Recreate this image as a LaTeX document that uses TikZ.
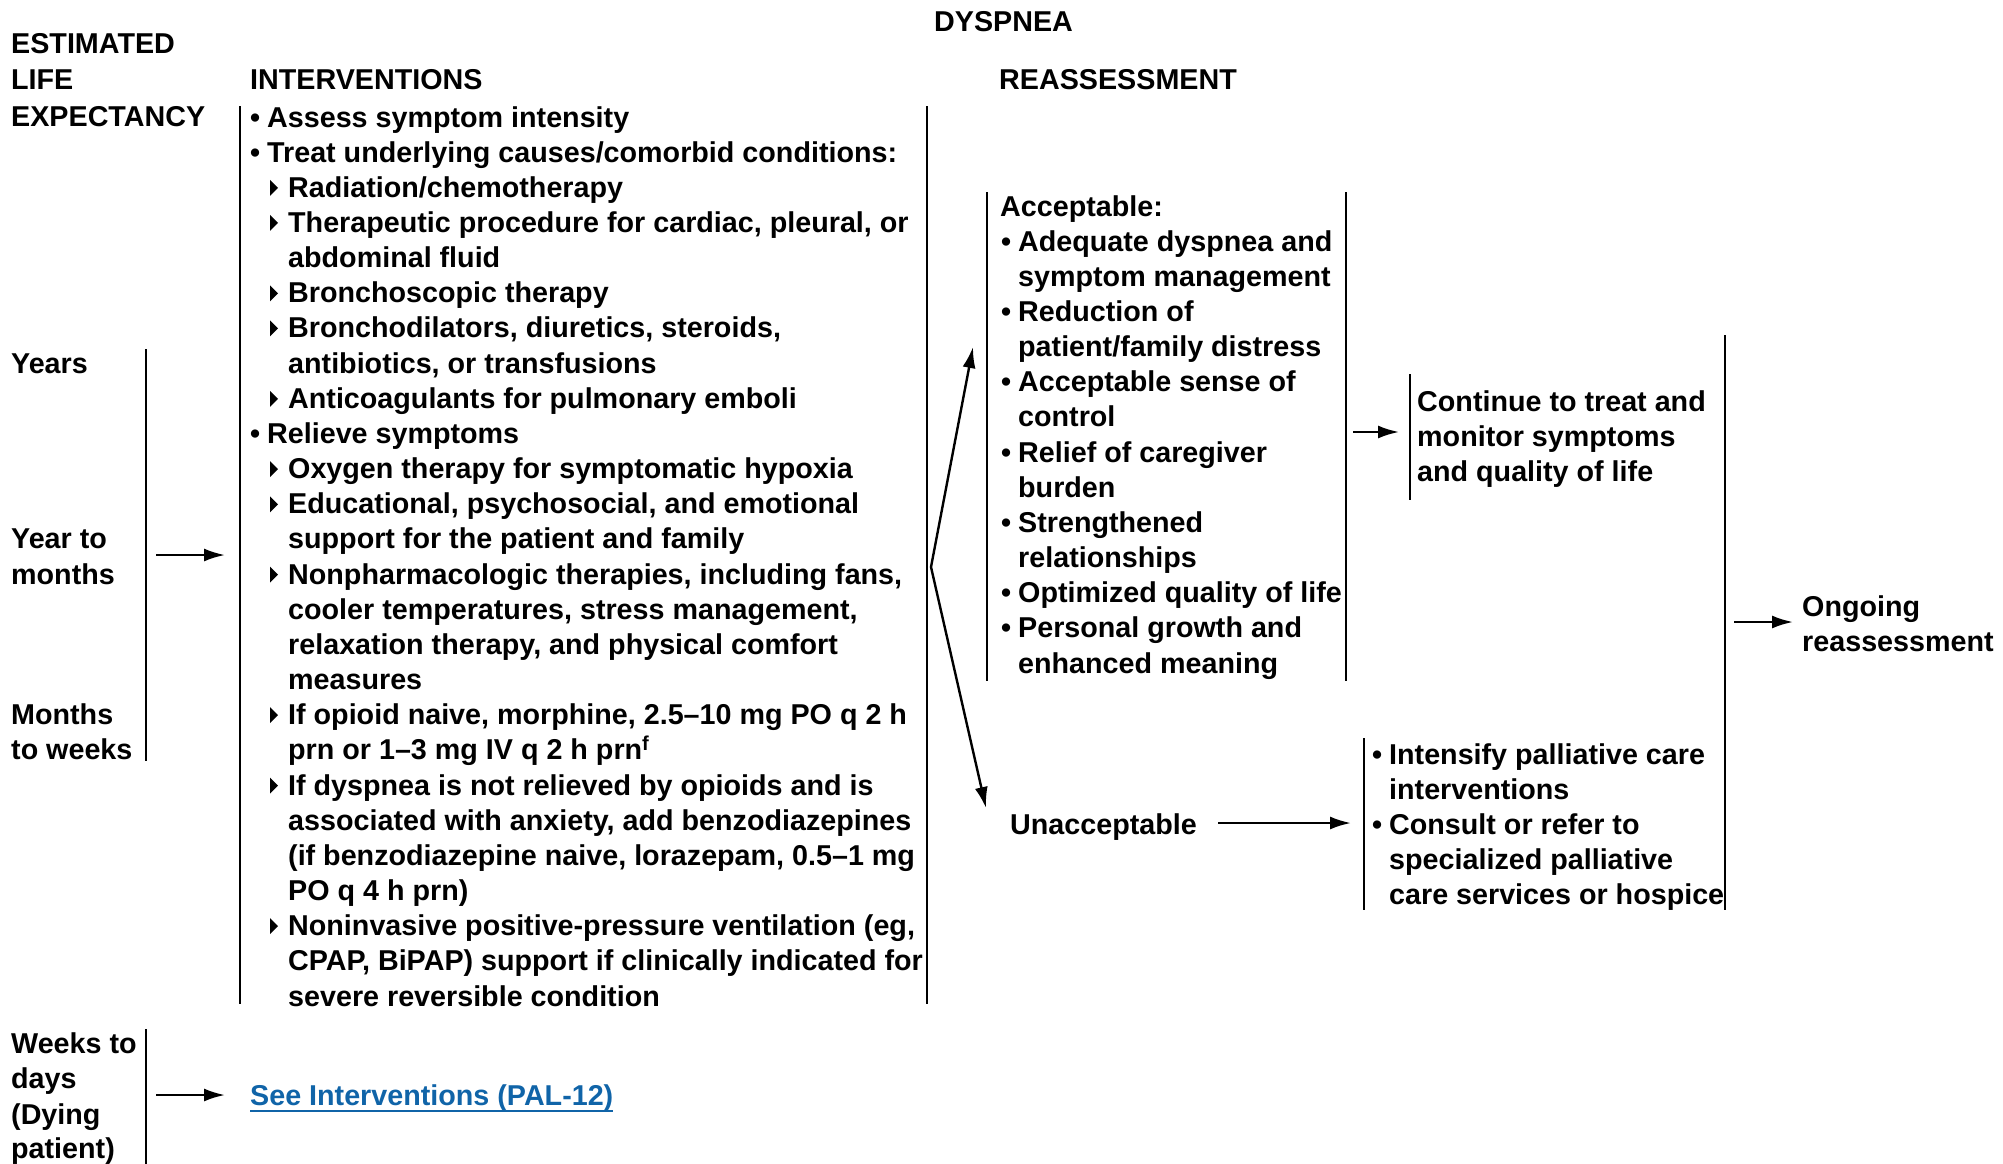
\documentclass[tikz,border=0pt]{standalone}
\usepackage{fontspec}
\setmainfont{Liberation Sans}
\usetikzlibrary{arrows.meta}

\definecolor{linkblue}{RGB}{16,100,168}

\tikzset{
  txt/.style={anchor=base west,inner sep=0pt,
    font=\bfseries\fontsize{28.7}{35.16}\selectfont},
  bar/.style={line width=2.3pt},
  arr/.style={line width=2.4pt,-{Latex[length=21pt,width=13pt]}},
}

\newcommand\RH{35.16}
\newcommand\itembul{\llap{\textbullet\hspace{7pt}}}

\begin{document}
\begin{tikzpicture}[x=1pt,y=1pt]
\useasboundingbox (0,0) rectangle (2003,-1164);

  %% headings
  \node[txt] (dys)    at (934,-32) {DYSPNEA};
  \node[txt] (est1)   at (11,-54)  {ESTIMATED};
  \node[txt] (est2)   at (11,-89)  {LIFE};
  \node[txt] (est3)   at (11,-126) {EXPECTANCY};
  \node[txt] (ivhead) at (250,-89) {INTERVENTIONS};
  \node[txt] (rehead) at (999,-89) {REASSESSMENT};

  %% life expectancy
  \node[txt] (yrs)  at (11,-127-7*\RH)  {Years};
  \node[txt] (ytm1) at (11,-127-12*\RH) {Year to};
  \node[txt] (ytm2) at (11,-127-13*\RH) {months};
  \node[txt] (mtw1) at (11,-127-17*\RH) {Months};
  \node[txt] (mtw2) at (11,-127-18*\RH) {to weeks};

  \node[txt] (wk1) at (11,-1053) {Weeks to};
  \node[txt] (wk2) at (11,-1088) {days};
  \node[txt] (wk3) at (11,-1124) {(Dying};
  \node[txt] (wk4) at (11,-1158) {patient)};

  %% interventions
  \node[txt] (iv1)  at (267,-127)         {\itembul Assess symptom intensity};
  \node[txt] (iv2)  at (267,-127-\RH)     {\itembul Treat underlying causes/comorbid conditions:};
  \node[txt] (iv3)  at (288,-127-2*\RH)   {Radiation/chemotherapy};
  \node[txt] (iv4)  at (288,-127-3*\RH)   {Therapeutic procedure for cardiac, pleural, or};
  \node[txt] (iv5)  at (288,-127-4*\RH)   {abdominal fluid};
  \node[txt] (iv6)  at (288,-127-5*\RH)   {Bronchoscopic therapy};
  \node[txt] (iv7)  at (288,-127-6*\RH)   {Bronchodilators, diuretics, steroids,};
  \node[txt] (iv8)  at (288,-127-7*\RH)   {antibiotics, or transfusions};
  \node[txt] (iv9)  at (288,-127-8*\RH)   {Anticoagulants for pulmonary emboli};
  \node[txt] (iv10) at (267,-127-9*\RH)   {\itembul Relieve symptoms};
  \node[txt] (iv11) at (288,-127-10*\RH)  {Oxygen therapy for symptomatic hypoxia};
  \node[txt] (iv12) at (288,-127-11*\RH)  {Educational, psychosocial, and emotional};
  \node[txt] (iv13) at (288,-127-12*\RH)  {support for the patient and family};
  \node[txt] (iv14) at (288,-127-13*\RH)  {Nonpharmacologic therapies, including fans,};
  \node[txt] (iv15) at (288,-127-14*\RH)  {cooler temperatures, stress management,};
  \node[txt] (iv16) at (288,-127-15*\RH)  {relaxation therapy, and physical comfort};
  \node[txt] (iv17) at (288,-127-16*\RH)  {measures};
  \node[txt] (iv18) at (288,-127-17*\RH)  {If opioid naive, morphine, 2.5–10 mg PO q 2 h};
  \node[txt] (iv19) at (288,-127-18*\RH)  {prn or 1–3 mg IV q 2 h prn\textsuperscript{f}};
  \node[txt] (iv20) at (288,-127-19*\RH)  {If dyspnea is not relieved by opioids and is};
  \node[txt] (iv21) at (288,-127-20*\RH)  {associated with anxiety, add benzodiazepines};
  \node[txt] (iv22) at (288,-127-21*\RH)  {(if benzodiazepine naive, lorazepam, 0.5–1 mg};
  \node[txt] (iv23) at (288,-127-22*\RH)  {PO q 4 h prn)};
  \node[txt] (iv24) at (288,-127-23*\RH)  {Noninvasive positive-pressure ventilation (eg,};
  \node[txt] (iv25) at (288,-127-24*\RH)  {CPAP, BiPAP) support if clinically indicated for};
  \node[txt] (iv26) at (288,-127-25*\RH)  {severe reversible condition};

  %% sub-item triangles
  \foreach \i in {3,4,6,7,9,11,12,14,18,20,24}
    \fill ([xshift=-18pt,yshift=1.5pt]iv\i.base west) -- ++(0,16) -- ++(8,-8) -- cycle;

  \node[txt,text=linkblue] (pal) at (250,-1105) {See Interventions (PAL-12)};
  \draw[linkblue,line width=1.8pt] ([yshift=-6pt]pal.base west) -- ([yshift=-6pt]pal.base east);

  %% reassessment
  \node[txt] (ac1)  at (1000,-216)        {Acceptable:};
  \node[txt] (ac2)  at (1018,-216-\RH)    {\itembul Adequate dyspnea and};
  \node[txt] (ac3)  at (1018,-216-2*\RH)  {symptom management};
  \node[txt] (ac4)  at (1018,-216-3*\RH)  {\itembul Reduction of};
  \node[txt] (ac5)  at (1018,-216-4*\RH)  {patient/family distress};
  \node[txt] (ac6)  at (1018,-216-5*\RH)  {\itembul Acceptable sense of};
  \node[txt] (ac7)  at (1018,-216-6*\RH)  {control};
  \node[txt] (ac8)  at (1018,-216-7*\RH)  {\itembul Relief of caregiver};
  \node[txt] (ac9)  at (1018,-216-8*\RH)  {burden};
  \node[txt] (ac10) at (1018,-216-9*\RH)  {\itembul Strengthened};
  \node[txt] (ac11) at (1018,-216-10*\RH) {relationships};
  \node[txt] (ac12) at (1018,-216-11*\RH) {\itembul Optimized quality of life};
  \node[txt] (ac13) at (1018,-216-12*\RH) {\itembul Personal growth and};
  \node[txt] (ac14) at (1018,-216-13*\RH) {enhanced meaning};

  \node[txt] (un) at (1010,-834) {Unacceptable};

  \node[txt] (co1) at (1417,-411) {Continue to treat and};
  \node[txt] (co2) at (1417,-446) {monitor symptoms};
  \node[txt] (co3) at (1417,-481) {and quality of life};

  \node[txt] (in1) at (1389,-764) {\itembul Intensify palliative care};
  \node[txt] (in2) at (1389,-799) {interventions};
  \node[txt] (in3) at (1389,-834) {\itembul Consult or refer to};
  \node[txt] (in4) at (1389,-869) {specialized palliative};
  \node[txt] (in5) at (1389,-904) {care services or hospice};

  \node[txt] (og1) at (1802,-616) {Ongoing};
  \node[txt] (og2) at (1802,-651) {reassessment};

  %% bars
  \draw[bar] (146,-349) -- (146,-761);   %% years .. weeks
  \draw[bar] (146,-1029) -- (146,-1164); %% dying patient
  \draw[bar] (240,-106) -- (240,-1004);
  \draw[bar] (927,-106) -- (927,-1004);
  \draw[bar] (987,-192) -- (987,-681);   %% acceptable
  \draw[bar] (1346,-192) -- (1346,-681);
  \draw[bar] (1410,-374) -- (1410,-500); %% continue
  \draw[bar] (1364,-738) -- (1364,-910); %% intensify
  \draw[bar] (1725,-335) -- (1725,-910); %% ongoing

  %% arrow ends
  \coordinate (le-out) at (156,-555);
  \coordinate (iv-in)  at (225,-555);
  \coordinate (wk-out) at (156,-1095);
  \coordinate (pal-in) at (225,-1095);
  \coordinate (fork)   at (931,-567);
  \coordinate (ac-in)  at (973,-347);
  \coordinate (un-in)  at (986,-808);
  \coordinate (ac-out) at (1353,-432);
  \coordinate (co-in)  at (1399,-432);
  \coordinate (un-out) at (1218,-823);
  \coordinate (in-in)  at (1351,-823);
  \coordinate (og-out) at (1734,-622);
  \coordinate (og-in)  at (1793,-622);

  %% arrows
  \draw[arr] (le-out) -- (iv-in);
  \draw[arr] (wk-out) -- (pal-in);
  \draw[arr] (fork) -- (ac-in);
  \draw[arr] (fork) -- (un-in);
  \draw[arr] (ac-out) -- (co-in);
  \draw[arr] (un-out) -- (in-in);
  \draw[arr] (og-out) -- (og-in);

\end{tikzpicture}
\end{document}
